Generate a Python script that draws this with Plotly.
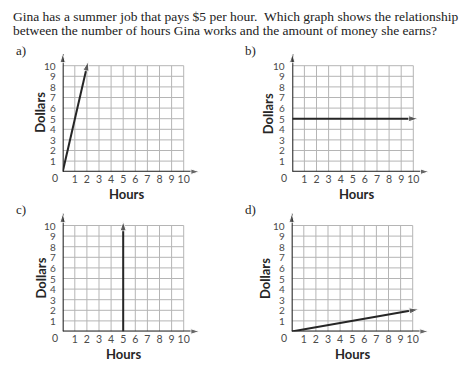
import plotly.graph_objects as go

# page body has an 8px default margin; draw on a canvas shifted by it
OFF = 8
W, H = 470 - OFF, 371 - OFF

title_lines = [
    "Gina has a summer job that pays $5 per hour.  Which graph shows the relationship",
    "between the number of hours Gina works and the amount of money she earns?",
]
panel_labels = ["a)", "b)", "c)", "d)"]
tick_vals = [1, 2, 3, 4, 5, 6, 7, 8, 9, 10]
tick_text = ["1", "2", "3", "4", "5", "6", "7", "8", "9", "10"]
x_title = "Hours"
y_title = "Dollars"

# answer lines (hours, dollars)
hours_a = [0, 2.1]
dollars_a = [0, 10.4]
hours_b = [0, 10.4]
dollars_b = [5, 5]
hours_c = [5, 5]
dollars_c = [0, 10.4]
hours_d = [0, 10.5]
dollars_d = [0, 2.1]

series = [(hours_a, dollars_a), (hours_b, dollars_b), (hours_c, dollars_c), (hours_d, dollars_d)]

# layout (pixel origins of each panel in the reference, pixels per unit)
origins = [(62.7, 171.7), (292.3, 171.7), (62.7, 331.5), (291.7, 331.5)]
PX, PY = 12.1, 10.6
XR, YR = 11.6, 11.4
hours_title_x = [5.3, 5.3, 5.0, 5.0]
dollars_title = [(-22.7, 5.55), (-24, 5.45), (-22.7, 5.0), (-26.7, 4.95)]

INK = "#262626"
TICK = dict(family="Lato", size=10.5, color="#4a4a4a")
YTICK = dict(family="Lato", size=10, color="#4a4a4a")
fig = go.Figure()
layout = {}
annotations = []

for i, (ox, oy) in enumerate(origins):
    ox -= OFF
    oy -= OFF
    sfx = "" if i == 0 else str(i + 1)
    xa, ya = "x" + sfx, "y" + sfx
    # grid
    gx, gy = [], []
    for k in range(11):
        gx += [k, k, None]
        gy += [0, 10, None]
        gx += [0, 10, None]
        gy += [k, k, None]
    fig.add_trace(go.Scatter(x=gx, y=gy, mode="lines", line=dict(color="#b5b5b5", width=1),
                             xaxis=xa, yaxis=ya, hoverinfo="skip", showlegend=False, cliponaxis=False))
    # axes with arrows
    for ax_x, ax_y in [([0, 11.3], [0, 0]), ([0, 0], [0, 11.1])]:
        fig.add_trace(go.Scatter(x=ax_x, y=ax_y, mode="lines+markers",
                                 line=dict(color=INK, width=2),
                                 marker=dict(symbol=["circle", "arrow"], size=[0, 9], angleref="previous", color=INK),
                                 xaxis=xa, yaxis=ya, hoverinfo="skip", showlegend=False, cliponaxis=False))
    hx, dy = series[i]
    fig.add_trace(go.Scatter(x=hx, y=dy, mode="lines+markers",
                             line=dict(color=INK, width=2),
                             marker=dict(symbol=["circle", "arrow"], size=[0, 10], angleref="previous", color=INK),
                             xaxis=xa, yaxis=ya, showlegend=False, cliponaxis=False))

    x0 = ox / W
    x1 = (ox + XR * PX) / W
    yb = 1 - oy / H
    yt = 1 - (oy - YR * PY) / H
    layout["xaxis" + sfx] = dict(domain=[x0, x1], range=[0, XR], anchor=ya, tickvals=tick_vals, ticktext=tick_text,
                                 showgrid=False, zeroline=False, showline=False, ticks="", tickangle=0,
                                 tickfont=TICK, fixedrange=True)
    layout["yaxis" + sfx] = dict(domain=[yb, yt], range=[0, YR], anchor=xa, showticklabels=False,
                                 showgrid=False, zeroline=False, showline=False, ticks="", fixedrange=True)
    # y tick labels placed at the axis' own data positions
    for v, t in zip(tick_vals, tick_text):
        annotations.append(dict(x=0, y=v, xref=xa, yref=ya, text=t, showarrow=False, xanchor="right",
                                xshift=-6, borderpad=0, font=YTICK))
    # "0" at origin
    annotations.append(dict(x=0, y=0, xref=xa, yref=ya, text="0", showarrow=False,
                            xshift=-8, yshift=-6.5, borderpad=0, font=TICK))
    # x, y letters
    annotations.append(dict(x=11.9, y=0, xref=xa, yref=ya, text="<i>x</i>", showarrow=False,
                            font=dict(family="Liberation Serif", size=11, color=INK)))
    annotations.append(dict(x=0, y=11.85, xref=xa, yref=ya, text="<i>y</i>", showarrow=False,
                            font=dict(family="Liberation Serif", size=11, color=INK)))
    # axis titles
    annotations.append(dict(x=hours_title_x[i], y=0, xref=xa, yref=ya, text="<b>" + x_title + "</b>",
                            showarrow=False, yshift=-22.5, font=dict(family="Lato", size=13, color=INK)))
    dxp, dyv = dollars_title[i]
    annotations.append(dict(x=0, y=dyv, xref=xa, yref=ya, text="<b>" + y_title + "</b>", textangle=-90,
                            showarrow=False, xshift=dxp, font=dict(family="Lato", size=13, color=INK)))

# panel labels
label_pos = [(21, 50), (250, 50), (21, 210), (250, 210)]
for lab, (px, py) in zip(panel_labels, label_pos):
    annotations.append(dict(x=(px - OFF) / W, y=1 - (py - OFF) / H, xref="paper", yref="paper", text=lab,
                            showarrow=False, xanchor="center", yanchor="middle",
                            font=dict(family="Liberation Serif", size=13, color=INK)))

# question text
for line, py in zip(title_lines, [16.7, 30.7]):
    annotations.append(dict(x=(11 - OFF) / W, y=1 - (py - OFF) / H, xref="paper", yref="paper", text=line,
                            showarrow=False, xanchor="left", yanchor="middle",
                            font=dict(family="Liberation Serif", size=13.5, color="#222222")))

fig.update_layout(width=W, height=H, margin=dict(l=0, r=0, t=0, b=0), paper_bgcolor="white",
                  plot_bgcolor="rgba(0,0,0,0)", annotations=annotations, **layout)
fig.write_html("out.html")
